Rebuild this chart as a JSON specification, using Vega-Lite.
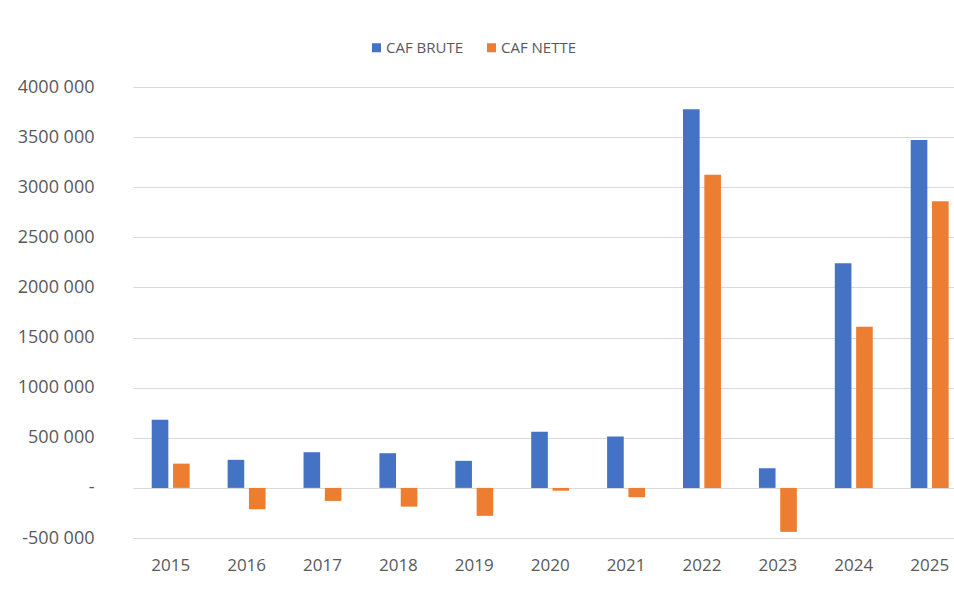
{
  "$schema": "https://vega.github.io/schema/vega-lite/v6.json",
  "width": 821,
  "height": 451,
  "autosize": {"type": "none"},
  "padding": {"left": 133, "top": 87, "right": 0, "bottom": 63},
  "background": "#ffffff",
  "config": {
    "view": {"stroke": null},
    "font": "Open Sans",
    "axis": {"labelColor": "#595959", "labelFont": "Open Sans"},
    "legend": {"labelColor": "#595959", "labelFont": "Open Sans"}
  },
  "data": {
    "values": [
      {"year": "2015", "series": "CAF BRUTE", "value": 681000},
      {"year": "2015", "series": "CAF NETTE", "value": 242000},
      {"year": "2016", "series": "CAF BRUTE", "value": 280000},
      {"year": "2016", "series": "CAF NETTE", "value": -213000},
      {"year": "2017", "series": "CAF BRUTE", "value": 356000},
      {"year": "2017", "series": "CAF NETTE", "value": -130000},
      {"year": "2018", "series": "CAF BRUTE", "value": 346000},
      {"year": "2018", "series": "CAF NETTE", "value": -187000},
      {"year": "2019", "series": "CAF BRUTE", "value": 270000},
      {"year": "2019", "series": "CAF NETTE", "value": -279000},
      {"year": "2020", "series": "CAF BRUTE", "value": 559000},
      {"year": "2020", "series": "CAF NETTE", "value": -28000},
      {"year": "2021", "series": "CAF BRUTE", "value": 512000},
      {"year": "2021", "series": "CAF NETTE", "value": -93000},
      {"year": "2022", "series": "CAF BRUTE", "value": 3779000},
      {"year": "2022", "series": "CAF NETTE", "value": 3124000},
      {"year": "2023", "series": "CAF BRUTE", "value": 196000},
      {"year": "2023", "series": "CAF NETTE", "value": -439000},
      {"year": "2024", "series": "CAF BRUTE", "value": 2242000},
      {"year": "2024", "series": "CAF NETTE", "value": 1607000},
      {"year": "2025", "series": "CAF BRUTE", "value": 3470000},
      {"year": "2025", "series": "CAF NETTE", "value": 2861000}
    ]
  },
  "mark": {"type": "bar", "cornerRadius": 0},
  "encoding": {
    "x": {
      "field": "year",
      "type": "ordinal",
      "scale": {"paddingInner": 0.5, "paddingOuter": 0.1585, "align": 0.778, "round": false},
      "axis": {
        "title": null,
        "labelAngle": 0,
        "domain": false,
        "ticks": false,
        "labelFontSize": 17,
        "labelPadding": 19
      }
    },
    "xOffset": {
      "field": "series",
      "type": "nominal",
      "scale": {"domain": ["CAF BRUTE", "CAF NETTE"], "paddingInner": 0.22, "paddingOuter": 0}
    },
    "y": {
      "field": "value",
      "type": "quantitative",
      "scale": {"domain": [-500000, 4000000], "nice": false, "zero": false},
      "axis": {
        "title": null,
        "values": [-500000, 0, 500000, 1000000, 1500000, 2000000, 2500000, 3000000, 3500000, 4000000],
        "labelExpr": "datum.value == 0 ? '-' : (datum.value < 0 ? '-' : '') + floor(abs(datum.value) / 1000) + ' 000'",
        "domain": false,
        "ticks": false,
        "grid": true,
        "gridColor": "#d9d9d9",
        "gridWidth": 1,
        "labelFontSize": 18,
        "labelPadding": 39
      }
    },
    "color": {
      "field": "series",
      "type": "nominal",
      "scale": {"domain": ["CAF BRUTE", "CAF NETTE"], "range": ["#4472c4", "#ed7d31"]},
      "legend": {
        "title": null,
        "orient": "none",
        "direction": "horizontal",
        "legendX": 236,
        "legendY": -47,
        "symbolType": "square",
        "symbolSize": 81,
        "symbolStrokeWidth": 0,
        "labelFontSize": 15,
        "labelOffset": 2,
        "columnPadding": 20,
        "padding": 0
      }
    }
  }
}
